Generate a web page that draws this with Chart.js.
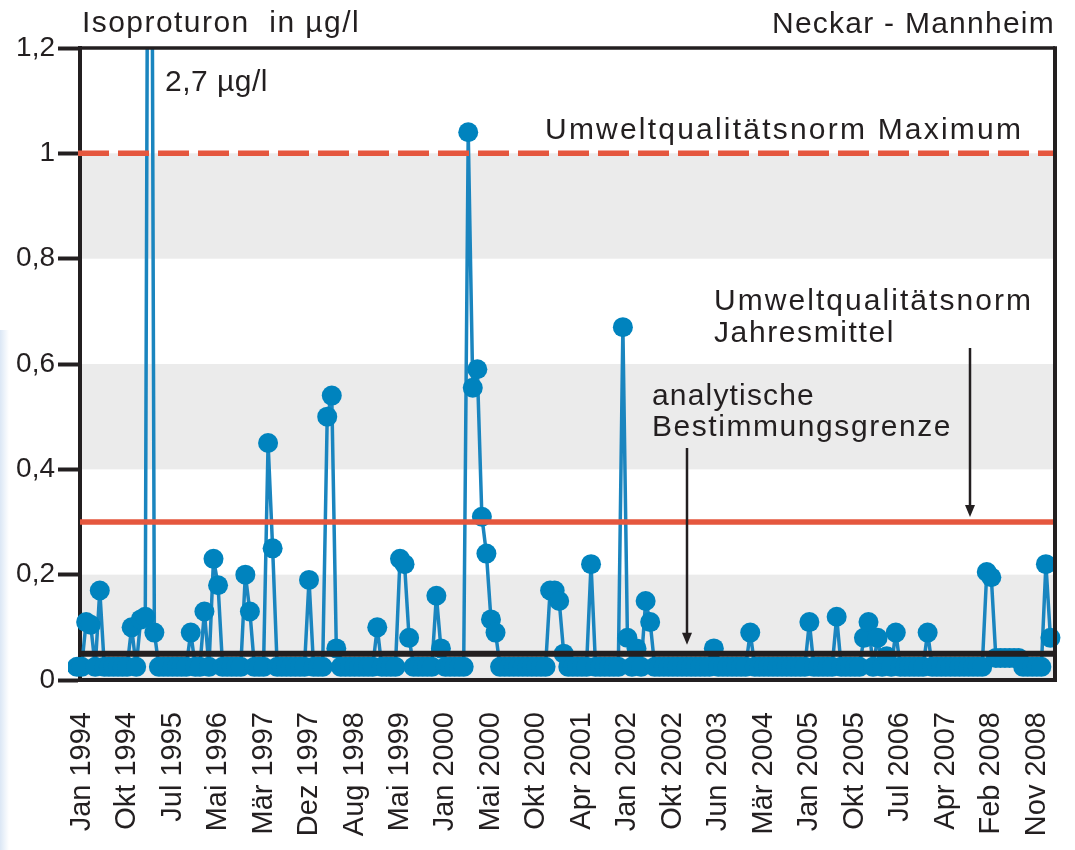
<!DOCTYPE html>
<html>
<head>
<meta charset="utf-8">
<script src="https://cdn.jsdelivr.net/npm/chart.js@4.4.1/dist/chart.umd.min.js"></script>
<style>
html,body{margin:0;padding:0;background:#fff;overflow:hidden}
#wrap{position:relative;width:1075px;height:850px}
#edge{position:absolute;left:0;top:330px;width:9px;height:520px;background:linear-gradient(to right,#dbe7f5,rgba(255,255,255,0))}
canvas{position:absolute;left:0;top:0}
</style>
</head>
<body>
<div id="wrap"><div id="edge"></div><canvas id="c" width="1075" height="850"></canvas></div>
<script>
// ---- data ----
const tickLabels = ['Jan 1994','Okt 1994','Jul 1995','Mai 1996','Mär 1997','Dez 1997','Aug 1998','Mai 1999',
  'Jan 2000','Mai 2000','Okt 2000','Apr 2001','Jan 2002','Okt 2002','Jun 2003','Mär 2004',
  'Jan 2005','Okt 2005','Jul 2006','Apr 2007','Feb 2008','Nov 2008'];
const tickSample = [1,11,21,31,41,51,61,71,81,91,101,111,121,131,141,151,161,171,181,191,201,211];

// Isoproturon concentration per sample (µg/l); 0.025 = below quantification limit
const isoproturon = [
  0.025,0.025,0.11,0.105,0.025,0.17,0.025,0.025,0.025,0.025,
  0.025,0.025,0.10,0.025,0.115,0.12,2.7,0.09,0.025,0.025,
  0.025,0.025,0.025,0.025,0.025,0.09,0.025,0.025,0.13,0.025,
  0.23,0.18,0.025,0.025,0.025,0.025,0.025,0.20,0.13,0.025,
  0.025,0.025,0.45,0.25,0.025,0.025,0.025,0.025,0.025,0.025,
  0.025,0.19,0.025,0.025,0.025,0.50,0.54,0.06,0.025,0.025,
  0.025,0.025,0.025,0.025,0.025,0.025,0.10,0.025,0.025,0.025,
  0.025,0.23,0.22,0.08,0.025,0.025,0.025,0.025,0.025,0.16,
  0.06,0.025,0.025,0.025,0.025,0.025,1.04,0.555,0.59,0.31,
  0.24,0.115,0.09,0.025,0.025,0.025,0.025,0.025,0.025,0.025,
  0.025,0.025,0.025,0.025,0.17,0.17,0.15,0.05,0.025,0.025,
  0.025,0.025,0.025,0.22,0.025,0.025,0.025,0.025,0.025,0.025,
  0.67,0.08,0.025,0.06,0.025,0.15,0.11,0.025,0.025,0.025,
  0.025,0.025,0.025,0.025,0.025,0.025,0.025,0.025,0.025,0.025,
  0.06,0.025,0.025,0.025,0.025,0.025,0.025,0.025,0.09,0.025,
  0.025,0.025,0.025,0.025,0.025,0.025,0.025,0.025,0.025,0.025,
  0.025,0.11,0.025,0.025,0.025,0.025,0.025,0.12,0.025,0.025,
  0.025,0.025,0.025,0.08,0.11,0.025,0.08,0.025,0.045,0.025,
  0.09,0.025,0.025,0.025,0.025,0.025,0.025,0.09,0.025,0.025,
  0.025,0.025,0.025,0.025,0.025,0.025,0.025,0.025,0.025,0.025,
  0.205,0.195,0.042,0.042,0.042,0.042,0.042,0.042,0.025,0.025,
  0.025,0.025,0.025,0.22,0.08
];

const greyBands = [[0, 0.2], [0.4, 0.6], [0.8, 1.0]];
const uqnMaximum = 1.0;
const uqnJahresmittel = 0.3;
const bestimmungsgrenze = 0.05;

// ---- styling / drawing ----
const ink = '#231f20';
const red = '#e5573e';
const FONT = '"Liberation Sans", Arial, Helvetica, sans-serif';

function drawFitted(ctx, text, x, yBase, width, size) {
  ctx.font = size + 'px ' + FONT;
  ctx.letterSpacing = '0px';
  const w0 = ctx.measureText(text).width;
  const n = [...text].length;
  const ls = (width - w0) / n;
  ctx.letterSpacing = ls.toFixed(2) + 'px';
  ctx.textAlign = 'left';
  ctx.textBaseline = 'alphabetic';
  ctx.fillStyle = ink;
  ctx.fillText(text, x, yBase);
  ctx.letterSpacing = '0px';
}

function arrow(ctx, x, y0, y1) {
  ctx.strokeStyle = ink; ctx.fillStyle = ink; ctx.lineWidth = 2.5;
  ctx.beginPath(); ctx.moveTo(x, y0); ctx.lineTo(x, y1 - 8); ctx.stroke();
  ctx.beginPath(); ctx.moveTo(x - 5, y1 - 12); ctx.lineTo(x + 5, y1 - 12); ctx.lineTo(x, y1); ctx.closePath(); ctx.fill();
}

const deco = {
  id: 'deco',
  beforeDraw(chart) {
    const {ctx, chartArea: a, scales: {y}} = chart;
    ctx.save();
    ctx.fillStyle = '#ebebeb';
    greyBands.forEach(([lo, hi]) => {
      const t = y.getPixelForValue(hi), b = y.getPixelForValue(lo);
      ctx.fillRect(a.left, t, a.right - a.left, b - t);
    });
    ctx.restore();
  },
  afterDatasetsDraw(chart) {
    const {ctx, chartArea: a, scales: {y}} = chart;
    ctx.save();
    ctx.lineWidth = 5.5; ctx.strokeStyle = red;
    ctx.setLineDash([31, 9]);
    let py = y.getPixelForValue(uqnMaximum);
    ctx.beginPath(); ctx.moveTo(a.left - 2, py); ctx.lineTo(a.right, py); ctx.stroke();
    ctx.setLineDash([]);
    py = y.getPixelForValue(uqnJahresmittel);
    ctx.beginPath(); ctx.moveTo(a.left, py); ctx.lineTo(a.right, py); ctx.stroke();
    ctx.lineWidth = 6; ctx.strokeStyle = ink;
    py = y.getPixelForValue(bestimmungsgrenze);
    ctx.beginPath(); ctx.moveTo(a.left, py); ctx.lineTo(a.right, py); ctx.stroke();
    ctx.restore();
  },
  afterDraw(chart) {
    const {ctx, chartArea: a, scales: {y}} = chart;
    ctx.save();
    ctx.strokeStyle = ink; ctx.lineWidth = 3.5;
    ctx.beginPath(); ctx.moveTo(a.left - 2, a.top); ctx.lineTo(a.right, a.top); ctx.stroke();
    ctx.lineWidth = 4;
    ctx.beginPath(); ctx.moveTo(a.right, a.top - 1.75); ctx.lineTo(a.right, a.bottom + 2); ctx.stroke();
    drawFitted(ctx, 'Isoproturon  in µg/l', 82, 32, 278, 30);
    drawFitted(ctx, 'Neckar - Mannheim', 772, 33, 283, 30);
    drawFitted(ctx, '2,7 µg/l', 165, 91, 103, 30);
    drawFitted(ctx, 'Umweltqualitätsnorm Maximum', 545, 139, 478, 30);
    drawFitted(ctx, 'Umweltqualitätsnorm', 714, 310, 319, 30);
    drawFitted(ctx, 'Jahresmittel', 714, 342, 181, 30);
    drawFitted(ctx, 'analytische', 652, 405, 163, 30);
    drawFitted(ctx, 'Bestimmungsgrenze', 652, 436, 300, 30);
    arrow(ctx, 970, 348, y.getPixelForValue(uqnJahresmittel) - 5);
    arrow(ctx, 687, 448, y.getPixelForValue(bestimmungsgrenze) - 9);
    ctx.restore();
  }
};

new Chart(document.getElementById('c'), {
  type: 'line',
  data: {
    datasets: [{
      data: isoproturon.map((v, i) => ({x: i, y: v})),
      borderColor: '#1a85bf',
      borderWidth: 3.5,
      borderJoinStyle: 'round',
      tension: 0,
      pointRadius: 10,
      pointBorderWidth: 0,
      pointBackgroundColor: '#0083be',
      pointHoverRadius: 10,
      clip: {left: 12, top: 0, right: 10, bottom: 5}
    }]
  },
  options: {
    responsive: false,
    animation: false,
    events: [],
    layout: {padding: {top: 48, right: 20, left: 0, bottom: 0}},
    plugins: {legend: {display: false}, tooltip: {enabled: false}},
    scales: {
      x: {
        type: 'linear',
        min: 0.65, max: 215,
        afterFit(s) { s.height = 170; s.paddingLeft = 0; s.paddingRight = 0; },
        afterBuildTicks(s) { s.ticks = tickSample.map(v => ({value: v})); },
        grid: {display: false},
        border: {display: true, width: 4, color: ink},
        ticks: {
          autoSkip: false, maxRotation: 90, minRotation: 90, padding: 24,
          color: ink, font: {family: FONT, size: 29},
          callback(v) { const k = tickSample.indexOf(v); return k >= 0 ? tickLabels[k] : ''; }
        }
      },
      y: {
        min: 0, max: 1.2,
        afterFit(s) { s.width = 80; s.paddingTop = 0; s.paddingBottom = 0; },
        grid: {display: true, drawOnChartArea: false, drawTicks: true, tickLength: 22, tickWidth: 4, tickColor: ink, color: ink},
        border: {display: true, width: 4, color: ink},
        ticks: {
          stepSize: 0.2, padding: 3, color: ink, font: {family: FONT, size: 28},
          callback(v) { return String(Number(v.toFixed(1))).replace('.', ','); }
        }
      }
    }
  },
  plugins: [deco]
});
</script>
</body>
</html>
